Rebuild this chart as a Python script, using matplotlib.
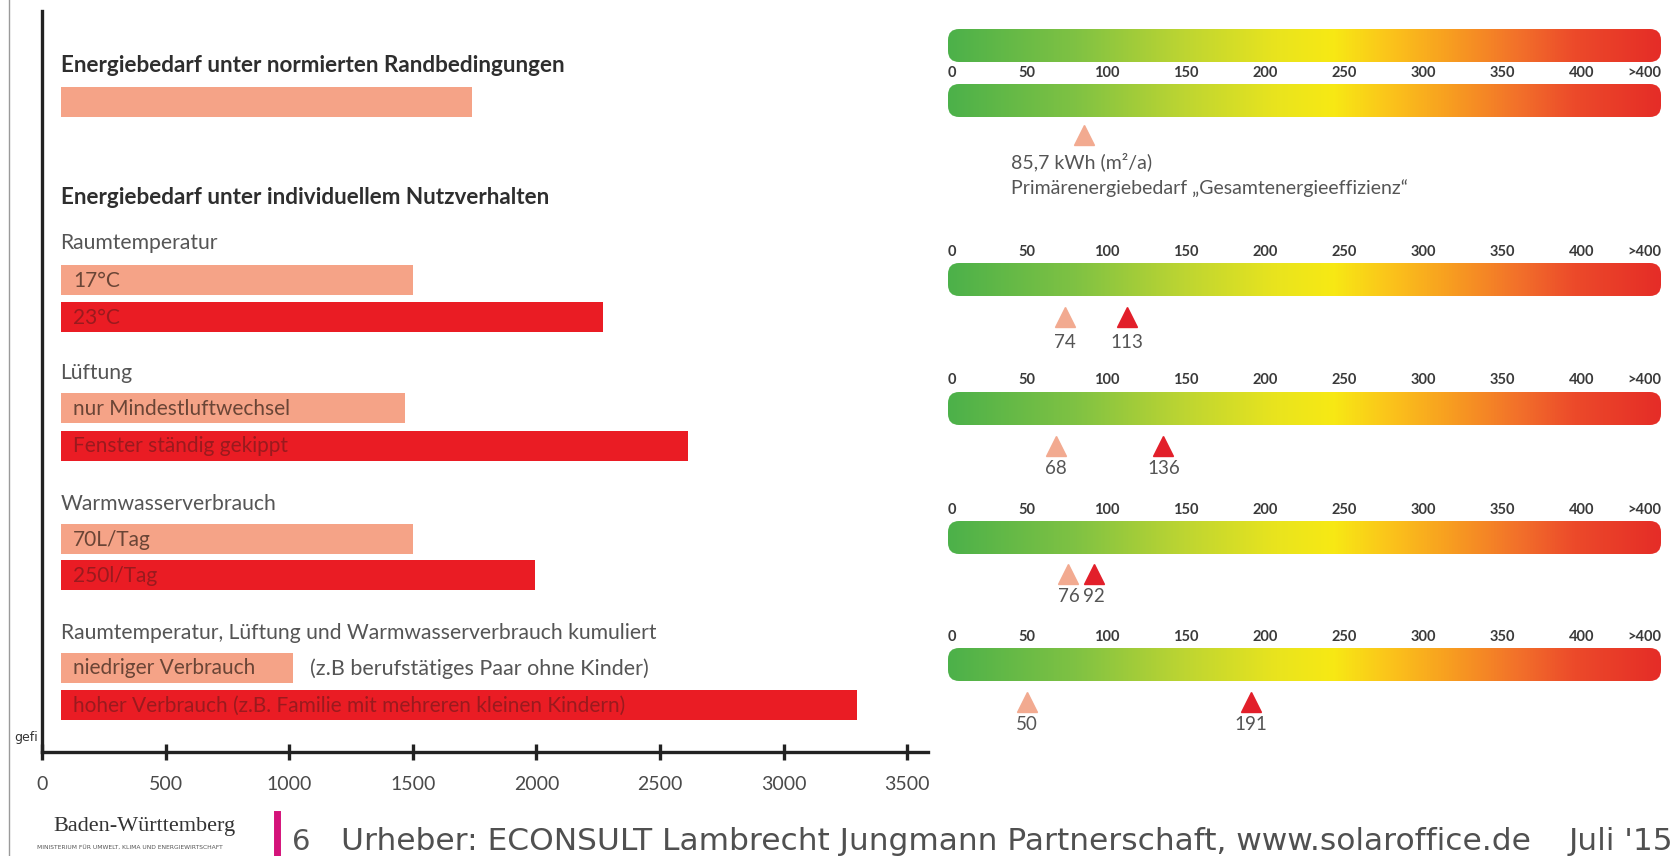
import numpy as np
import matplotlib
matplotlib.use("Agg")
import matplotlib.pyplot as plt
from matplotlib.colors import LinearSegmentedColormap
from matplotlib.patches import FancyBboxPatch
from matplotlib.lines import Line2D

# ---------------- data ----------------
bar_labels = ["", "17°C", "23°C", "nur Mindestluftwechsel", "Fenster ständig gekippt",
              "70L/Tag", "250l/Tag", "niedriger Verbrauch",
              "hoher Verbrauch (z.B. Familie mit mehreren kleinen Kindern)"]
bar_values = [1740, 1500, 2270, 1470, 2615, 1500, 1995, 1015, 3295]
bar_kind = ["low", "low", "high", "low", "high", "low", "high", "low", "high"]
x_ticks = [0, 500, 1000, 1500, 2000, 2500, 3000, 3500]

group_titles = ["Raumtemperatur", "Lüftung", "Warmwasserverbrauch",
                "Raumtemperatur, Lüftung und Warmwasserverbrauch kumuliert"]
section_titles = ["Energiebedarf unter normierten Randbedingungen",
                  "Energiebedarf unter individuellem Nutzverhalten"]

scale_ticks = [0, 50, 100, 150, 200, 250, 300, 350, 400]
scale_tick_labels = ["0", "50", "100", "150", "200", "250", "300", "350", "400"]
primary_value = 85.7
gauge_low = [74, 68, 76, 50]
gauge_high = [113, 136, 92, 191]

# ---------------- layout (pixels of a 1673x856 canvas) ----------------
W, H = 1673, 856
fig = plt.figure(figsize=(W / 100, H / 100), dpi=100)
fig.patch.set_facecolor("white")

SANS = "Lato"
C_LOW = "#F5A387"
C_HIGH = "#EA1C24"
C_LOW_TXT = "#6a4536"
C_HIGH_TXT = "#9a1a1e"
C_HEAD = "#2e2e2e"
C_SUB = "#555555"

def fx(px):
    return px / W

def fy(py):
    return 1 - py / H

# bar axes: x=0 at 42px, 0.2472 px per unit; y in canvas pixels (inverted)
x0_px, per_unit = 42, 0.2472
xmax = 3585
ax = fig.add_axes([fx(x0_px), fy(752), (xmax * per_unit) / W, (752 - 11) / H])
ax.set_xlim(0, xmax)
ax.set_ylim(752, 11)

bar_y = [101.7, 280, 317, 408, 445.5, 539, 575, 667.5, 705]
bar_h = 30
bar_start = 75
for y, v, k, lab in zip(bar_y, bar_values, bar_kind, bar_labels):
    ax.barh(y, v - bar_start, left=bar_start, height=bar_h,
            color=C_LOW if k == "low" else C_HIGH, edgecolor="none", zorder=2)
    if lab:
        ax.text(bar_start + 50, y + 1, lab, va="center", ha="left", fontsize=15,
                family=SANS, color=C_LOW_TXT if k == "low" else C_HIGH_TXT, zorder=3)

ax.text(1015 + 70, 667.5 + 1, "(z.B berufstätiges Paar ohne Kinder)", va="center",
        ha="left", fontsize=15.5, family=SANS, color=C_SUB)

sec_y = [65, 197]
for y, t in zip(sec_y, section_titles):
    ax.text(bar_start, y, t, va="center", ha="left", fontsize=16.2, family=SANS,
            fontweight="bold", color=C_HEAD)
grp_y = [243, 373, 504, 633]
for y, t in zip(grp_y, group_titles):
    ax.text(bar_start, y, t, va="center", ha="left", fontsize=15.2, family=SANS,
            color=C_SUB)

for s in ["top", "right"]:
    ax.spines[s].set_visible(False)
for s in ["left", "bottom"]:
    ax.spines[s].set_linewidth(2.4)
    ax.spines[s].set_color("#222222")
ax.set_yticks([])
ax.set_xticks(x_ticks)
ax.set_xticklabels([str(t) for t in x_ticks], family=SANS, fontsize=14, color="#4a4a4a")
ax.tick_params(axis="x", direction="inout", length=11, width=2.4, color="#222222", pad=12)
ax.set_facecolor("none")

fig.text(fx(38), fy(737), "gefi", ha="right", va="center", fontsize=9,
         family="DejaVu Sans", color="#333333")

# ---------------- gauges ----------------
gx0, gx1 = 948, 1661
gax = fig.add_axes([fx(gx0), 0, (gx1 - gx0) / W, 1])
gax.set_xlim(0, 450)
gax.set_ylim(H, 0)
gax.axis("off")

cmap = LinearSegmentedColormap.from_list("energy", [
    (0.00, "#4CB14A"), (0.18, "#80C243"), (0.33, "#BDD532"), (0.46, "#E9E41E"),
    (0.54, "#F7E914"), (0.62, "#FBC41B"), (0.70, "#F8A020"), (0.80, "#F2712A"),
    (0.88, "#EC4A2A"), (1.00, "#E52D27")])
grad = np.linspace(0, 1, 512).reshape(1, -1)
px_per_val = (gx1 - gx0) / 450.0

def gauge_bar(top, h=33):
    patch = FancyBboxPatch((0, top), 450, h,
                           boxstyle="round,pad=0,rounding_size=7",
                           mutation_aspect=px_per_val, facecolor="none",
                           edgecolor="none", transform=gax.transData)
    gax.add_patch(patch)
    im = gax.imshow(grad, cmap=cmap, aspect="auto", extent=[0, 450, top + h, top],
                    interpolation="bilinear", zorder=1)
    im.set_clip_path(patch)

def gauge_labels(y):
    for t, lab in zip(scale_ticks, scale_tick_labels):
        ha = "left" if t == 0 else "center"
        gax.text(t, y, lab, ha=ha, va="center", fontsize=10.5, family=SANS,
                 fontweight="bold", color="#3a3a3a")
    gax.text(450, y, ">400", ha="right", va="center", fontsize=10.5, family=SANS,
             fontweight="bold", color="#3a3a3a")

C_TRI_LOW = "#F2AA90"
C_TRI_HIGH = "#E21F2A"

# gauge 1 (two bars)
gauge_bar(29)
gauge_labels(73)
gauge_bar(84)
gax.plot([primary_value], [135], marker="^", markersize=14, color=C_TRI_LOW,
         linestyle="none")
gax.text(40, 162, "85,7 kWh (m²/a)", ha="left", va="center", fontsize=14,
         family=SANS, color=C_SUB)
gax.text(40, 188, "Primärenergiebedarf „Gesamtenergieeffizienz“", ha="left",
         va="center", fontsize=14, family=SANS, color=C_SUB)

label_y = [252, 380, 510, 637]
bar_top = [263, 392, 521, 648]
tri_y = [317, 446, 574, 702]
num_y = [342, 468, 597, 725]
for ly, bt, ty, ny, lo, hi in zip(label_y, bar_top, tri_y, num_y, gauge_low, gauge_high):
    gauge_labels(ly)
    gauge_bar(bt)
    gax.plot([lo], [ty], marker="^", markersize=14, color=C_TRI_LOW, linestyle="none")
    gax.plot([hi], [ty], marker="^", markersize=14, color=C_TRI_HIGH, linestyle="none")
    gax.text(lo, ny, str(lo), ha="center", va="center", fontsize=13.5, family=SANS,
             color=C_SUB)
    gax.text(hi, ny, str(hi), ha="center", va="center", fontsize=13.5, family=SANS,
             color=C_SUB)

# ---------------- footer ----------------
fig.add_artist(Line2D([fx(9), fx(9)], [0, 1], color="#9a9a9a", lw=1))
fig.text(fx(144), fy(826), "Baden-Württemberg", ha="center", va="center",
         fontsize=16, family="Liberation Serif", color="#333333")
fig.text(fx(130), fy(848), "MINISTERIUM FÜR UMWELT, KLIMA UND ENERGIEWIRTSCHAFT",
         ha="center", va="center", fontsize=4.3, family="DejaVu Sans", color="#555555")
fig.add_artist(Line2D([fx(277), fx(277)], [fy(814), fy(856)], color="#D4137A", lw=5))
fig.text(fx(292), fy(842), "6", ha="left", va="center", fontsize=21,
         family="DejaVu Sans", color="#555555")
fig.text(fx(341), fy(842),
         "Urheber: ECONSULT Lambrecht Jungmann Partnerschaft, www.solaroffice.de",
         ha="left", va="center", fontsize=22.5, family="DejaVu Sans", color="#505050")
fig.text(fx(1569), fy(842), "Juli '15", ha="left", va="center", fontsize=22.5,
         family="DejaVu Sans", color="#505050")

fig.savefig("out.png", dpi=100, facecolor="white")
